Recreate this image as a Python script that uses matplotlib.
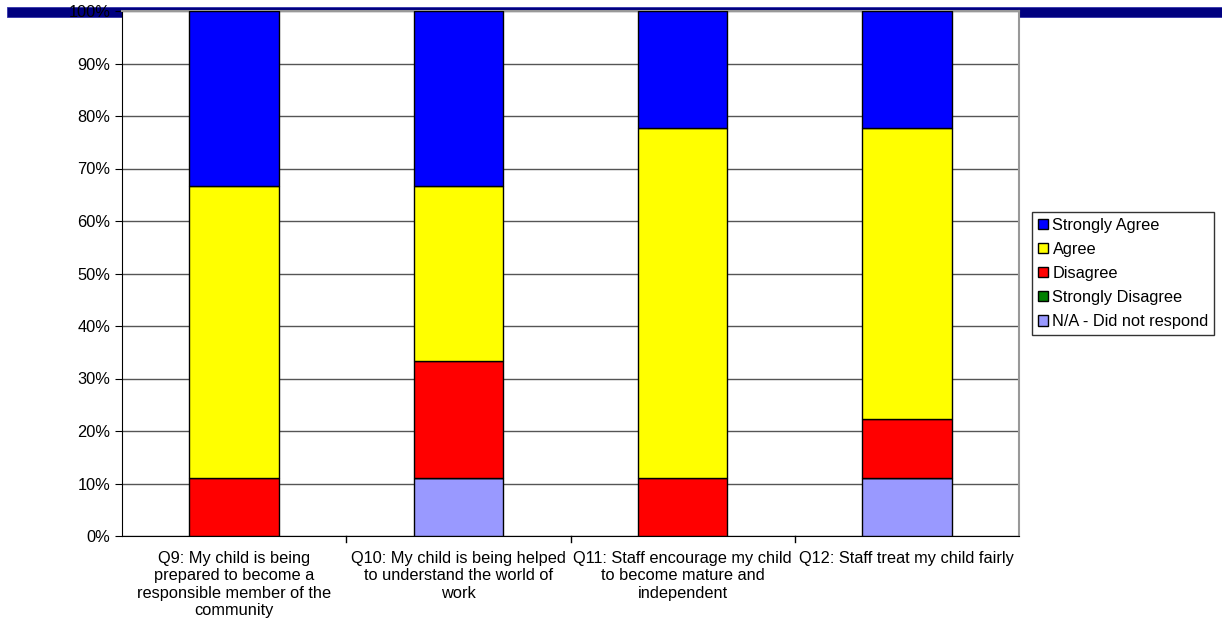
import matplotlib
matplotlib.use("Agg")
import matplotlib.pyplot as plt
from matplotlib.patches import Rectangle

categories = [
    "Q9: My child is being\nprepared to become a\nresponsible member of the\ncommunity",
    "Q10: My child is being helped\nto understand the world of\nwork",
    "Q11: Staff encourage my child\nto become mature and\nindependent",
    "Q12: Staff treat my child fairly",
]
series = ["N/A - Did not respond", "Strongly Disagree", "Disagree", "Agree", "Strongly Agree"]
na_vals = [0.0, 11.1, 0.0, 11.1]
sd_vals = [0.0, 0.0, 0.0, 0.0]
dis_vals = [11.1, 22.2, 11.1, 11.1]
agree_vals = [55.6, 33.3, 66.7, 55.6]
sa_vals = [33.3, 33.4, 22.2, 22.2]
colors = ["#9999ff", "#008000", "#ff0000", "#ffff00", "#0000ff"]
yticks = [0, 10, 20, 30, 40, 50, 60, 70, 80, 90, 100]

plt.rcParams['font.family'] = ['Liberation Sans', 'DejaVu Sans']
FS = 11.8

fig = plt.figure(figsize=(12.22, 6.30), dpi=100)
W, H = 1222, 630
# dark blue band behind the plot area
fig.patches.append(Rectangle((7 / W, 1 - 17 / H), (W - 7) / W, 10 / H,
                             transform=fig.transFigure, facecolor="#000080",
                             edgecolor="#3333aa", linewidth=0.6, zorder=0))
ax = fig.add_axes([122 / W, 1 - 536 / H, (1019 - 122) / W, (536 - 11) / H])
ax.set_zorder(1)
ax.set_facecolor("white")

x = list(range(len(categories)))
bottom = [0.0] * len(categories)
for name, vals, c in zip(series, [na_vals, sd_vals, dis_vals, agree_vals, sa_vals], colors):
    ax.bar(x, vals, bottom=bottom, width=0.4, color=c, edgecolor="black", linewidth=1, label=name, zorder=3)
    bottom = [b + v for b, v in zip(bottom, vals)]

ax.set_xlim(-0.5, len(categories) - 0.5)
ax.set_ylim(0, 100)
ax.set_yticks(yticks)
ax.set_yticklabels([f"{t}%" for t in yticks], fontsize=FS)
ax.yaxis.grid(True, color="#555555", linewidth=1, zorder=0)
ax.set_axisbelow(True)
ax.set_xticks(x)
ax.set_xticklabels(categories, fontsize=FS, linespacing=1.18)
ax.tick_params(axis="x", length=0, pad=11)
ax.tick_params(axis="y", length=5, direction="out", color="black")
for xb in [0.5, 1.5, 2.5]:
    ax.plot([xb, xb], [0, -1.2], color="black", linewidth=1, clip_on=False, zorder=4)
for s in ["top", "right"]:
    ax.spines[s].set_color("#999999")
    ax.spines[s].set_linewidth(1.5)
ax.spines["left"].set_color("black")
ax.spines["bottom"].set_color("black")

handles, labels = ax.get_legend_handles_labels()
leg = fig.legend(handles[::-1], labels[::-1], loc="upper left",
                 bbox_to_anchor=(1032 / W, 1 - 212 / H), fontsize=FS,
                 frameon=True, fancybox=False, edgecolor="black",
                 handlelength=0.65, handleheight=0.65, handletextpad=0.25,
                 labelspacing=0.55, borderpad=0.35, borderaxespad=0)
leg.get_frame().set_linewidth(1)

fig.savefig("out.png", dpi=100)
